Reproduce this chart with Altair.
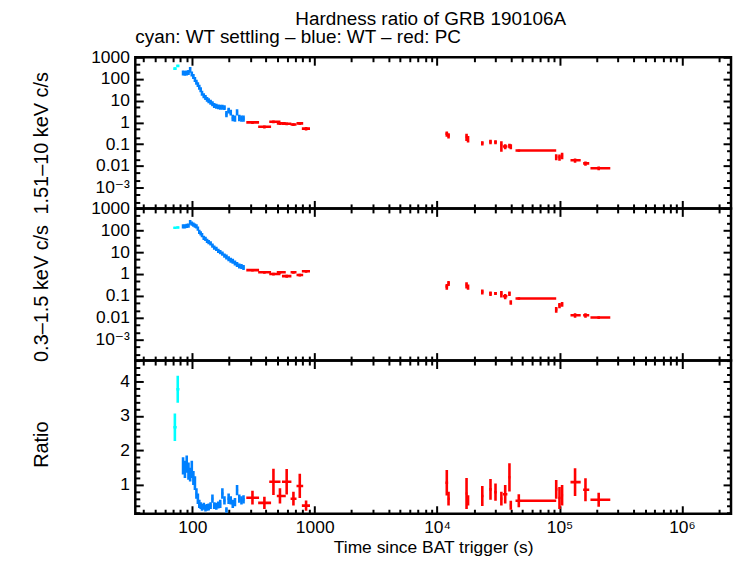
import altair as alt
import pandas as pd

TITLE = "Hardness ratio of GRB 190106A"
SUBTITLE = "cyan: WT settling – blue: WT – red: PC"
X_TITLE = "Time since BAT trigger (s)"
Y_TITLES = ["1.51–10 keV c/s", "0.3–1.5 keV c/s", "Ratio"]

series_names = ["cyan", "blue", "red"]
series_colors = ["#00ffff", "#0080ff", "#ff0000"]

x_tick_values = [100, 1000, 1e4, 1e5, 1e6]
x_tick_labels = ["100", "1000", "10⁴", "10⁵", "10⁶"]
rate_tick_values = [0.001, 0.01, 0.1, 1, 10, 100, 1000]
rate_tick_labels = ["10⁻³", "0.01", "0.1", "1", "10", "100", "1000"]
ratio_tick_values = [1, 2, 3, 4]
ratio_tick_labels = ["1", "2", "3", "4"]

# ---- cyan: WT settling ----
cyan_t = [72, 76]
cyan_tlo = [70, 74]
cyan_thi = [74.5, 78.5]
cyan_hard = [300, 400]
cyan_hard_err = [40, 45]
cyan_soft = [130, 135]
cyan_soft_err = [12, 12]
cyan_ratio = [2.67, 3.77]
cyan_ratio_err = [0.4, 0.39]

# ---- blue: WT ----
blue_t = [84, 87, 90, 93, 96, 99, 102, 105, 108, 111, 114, 117, 120, 124, 128, 132, 136,
          141, 146, 151, 157, 163, 169, 176, 183, 190, 198, 206, 214, 223, 232, 242, 252, 262]
blue_dt = [1.5, 1.5, 1.5, 1.5, 1.5, 1.5, 1.5, 1.5, 1.5, 1.5, 1.5, 1.5, 2, 2, 2, 2, 2,
           2.5, 2.5, 2.5, 3, 3, 3, 3.5, 3.5, 3.5, 4, 4, 4, 4.5, 4.5, 5, 5, 5]
blue_hard = [190, 185, 190, 200, 260, 170, 130, 95, 70, 55, 42, 32, 22, 17, 14, 11.5, 10,
             8.5, 7.2, 6, 5.5, 5.2, 5.0, 5.0, 4.8, 2.4, 3.5, 2.8, 1.6, 1.5, 2.9, 1.6, 1.5, 1.5]
blue_hard_frac = [0.3, 0.3, 0.3, 0.3, 0.35, 0.3, 0.3, 0.3, 0.3, 0.3, 0.3, 0.3, 0.3,
                  0.3, 0.3, 0.3, 0.3, 0.3, 0.3, 0.3, 0.3, 0.3, 0.3, 0.3, 0.3, 0.4,
                  0.35, 0.35, 0.4, 0.4, 0.4, 0.4, 0.4, 0.4]
blue_soft = [150, 150, 160, 165, 230, 200, 180, 165, 150, 120, 85, 72, 60, 45, 40, 33, 29,
             25, 20, 16, 14, 11.5, 10, 8.5, 7, 6, 5, 4.3, 3.8, 3.2, 2.7, 2.3, 2.2, 2.0]
blue_soft_frac = [0.25, 0.25, 0.25, 0.25, 0.3, 0.25, 0.25, 0.25, 0.25, 0.25, 0.25, 0.25, 0.25,
                  0.25, 0.25, 0.25, 0.25, 0.25, 0.25, 0.25, 0.25, 0.25, 0.25, 0.25, 0.25, 0.3,
                  0.3, 0.3, 0.3, 0.3, 0.3, 0.3, 0.3, 0.3]
blue_ratio = [1.55, 1.45, 1.6, 1.4, 1.3, 1.45, 1.2, 1.05, 0.75, 0.6, 0.45, 0.4, 0.35, 0.38,
              0.33, 0.35, 0.36, 0.4, 0.6, 0.4, 0.38, 0.42, 0.45, 0.75, 0.55, 0.27, 0.6, 0.55,
              0.45, 0.5, 0.85, 0.6, 0.55, 0.58]
blue_ratio_err = [0.25, 0.25, 0.25, 0.25, 0.2, 0.25, 0.2, 0.2, 0.15, 0.15, 0.12, 0.1, 0.1, 0.1,
                  0.1, 0.1, 0.1, 0.1, 0.12, 0.1, 0.1, 0.1, 0.12, 0.15, 0.12, 0.08, 0.15, 0.12,
                  0.12, 0.12, 0.15, 0.12, 0.12, 0.12]

# ---- red: PC ----
red_t = [310, 388, 460, 520, 590, 670, 755, 850,
         12000, 12400, 17400, 17900, 23400, 27300, 30000, 33500, 36000, 39000, 40000,
         46500, 94000, 100000, 105000, 134000, 163000, 209000]
red_tlo = [276, 345, 425, 490, 540, 635, 710, 785,
           11700, 12200, 17100, 17600, 22900, 26700, 29300, 32900, 34500, 38300, 39300,
           43700, 92000, 98000, 103000, 123000, 156000, 179000]
red_thi = [351, 440, 525, 580, 645, 710, 805, 915,
           12300, 12700, 17700, 18200, 23900, 27900, 30700, 34100, 37500, 39700, 40700,
           94000, 96000, 102000, 107000, 149000, 175000, 260000]
red_hard = [1.0, 0.63, 1.07, 0.9, 0.87, 0.8, 0.9, 0.52,
            0.30, 0.25, 0.22, 0.18, 0.112, 0.128, 0.125, 0.09, 0.078, 0.085, 0.078,
            0.051, 0.026, 0.025, 0.030, 0.018, 0.013, 0.0078]
red_hard_err = [0.15, 0.1, 0.15, 0.13, 0.12, 0.12, 0.13, 0.09,
                0.08, 0.07, 0.08, 0.06, 0.025, 0.03, 0.025, 0.045, 0.02, 0.02, 0.02,
                0.006, 0.008, 0.008, 0.01, 0.004, 0.003, 0.0015]
red_soft = [1.5, 1.2, 1.0, 1.2, 0.8, 1.2, 0.9, 1.33,
            0.27, 0.38, 0.32, 0.26, 0.155, 0.13, 0.13, 0.125, 0.096, 0.13, 0.051,
            0.076, 0.024, 0.037, 0.042, 0.013, 0.013, 0.0102]
red_soft_err = [0.2, 0.17, 0.15, 0.17, 0.12, 0.17, 0.13, 0.18,
                0.08, 0.1, 0.1, 0.07, 0.04, 0.03, 0.02, 0.04, 0.025, 0.03, 0.012,
                0.01, 0.007, 0.01, 0.01, 0.003, 0.003, 0.0015]
red_ratio = [0.63, 0.48, 1.09, 0.68, 1.09, 0.6, 0.97, 0.4,
             1.06, 0.6, 0.75, 0.55, 0.68, 0.87, 0.79, 0.6, 0.73, 1.22, 0.41,
             0.54, 0.87, 0.62, 0.7, 1.08, 0.86, 0.57]
red_ratio_err = [0.2, 0.18, 0.38, 0.22, 0.37, 0.2, 0.35, 0.15,
                 0.37, 0.2, 0.45, 0.15, 0.29, 0.3, 0.25, 0.2, 0.27, 0.41, 0.13,
                 0.19, 0.27, 0.32, 0.3, 0.4, 0.33, 0.2]

X_DOMAIN = [34.2, 2.52e6]
RATE_DOMAIN = [1.1e-4, 1000]
RATIO_DOMAIN = [0.165, 4.6]

FONT = "Liberation Sans, Arial, DejaVu Sans, sans-serif"
FS_LABEL = 17.5
FS_XTITLE = 17.5
FS_YTITLE = 20
FS_TITLE = 19
W = 599


def rows(name, t, tlo, thi, v, lo, hi):
    return [dict(series=name, t=a, tlo=b, thi=c, v=d, vlo=e, vhi=f)
            for a, b, c, d, e, f in zip(t, tlo, thi, v, lo, hi)]


def absolute(vals, errs):
    return (vals, [v - e for v, e in zip(vals, errs)], [v + e for v, e in zip(vals, errs)])


def relative(vals, fracs):
    return (vals, [v / (1 + f) for v, f in zip(vals, fracs)], [v * (1 + f) for v, f in zip(vals, fracs)])


def panel_df(kind):
    blo = [a - d for a, d in zip(blue_t, blue_dt)]
    bhi = [a + d for a, d in zip(blue_t, blue_dt)]
    if kind == "hard":
        c = absolute(cyan_hard, cyan_hard_err)
        b = relative(blue_hard, blue_hard_frac)
        r = absolute(red_hard, red_hard_err)
    elif kind == "soft":
        c = absolute(cyan_soft, cyan_soft_err)
        b = relative(blue_soft, blue_soft_frac)
        r = absolute(red_soft, red_soft_err)
    else:
        c = absolute(cyan_ratio, cyan_ratio_err)
        b = absolute(blue_ratio, blue_ratio_err)
        r = absolute(red_ratio, red_ratio_err)
    data = (rows("cyan", cyan_t, cyan_tlo, cyan_thi, *c)
            + rows("blue", blue_t, blo, bhi, *b)
            + rows("red", red_t, red_tlo, red_thi, *r))
    return pd.DataFrame(data)


def lab_expr(values, labels):
    expr = "''"
    for v, l in zip(values, labels):
        expr = f"(abs(datum.value / {v} - 1) < 1e-6) ? '{l}' : ({expr})"
    return expr


def axis(orient, values, size, labels=None, title=None, titleX=None, titleY=None,
         labelPadding=6):
    kw = dict(orient=orient, values=values, tickSize=size, offset=-size,
              domain=False, grid=False, ticks=True, tickColor="black", tickWidth=2,
              labels=labels is not None, title=title, minExtent=0)
    if labels is not None:
        kw.update(labelExpr=lab_expr(values, labels), labelFont=FONT,
                  labelFontSize=FS_LABEL, labelColor="black", labelPadding=labelPadding,
                  labelOverlap=False, labelFlush=False)
    if title is not None:
        kw.update(titleFont=FONT, titleFontWeight="normal", titleColor="black")
        if titleX is not None:
            kw.update(titleX=titleX, titleY=titleY, titleAngle=-90, titleAlign="center",
                      titleBaseline="middle", titleFontSize=FS_YTITLE)
        else:
            kw.update(titlePadding=2, titleFontSize=FS_XTITLE)
    return alt.Axis(**kw)


x_minor = [m * 10 ** k for k in range(1, 7) for m in range(2, 10)
           if X_DOMAIN[0] <= m * 10 ** k <= X_DOMAIN[1]]
rate_minor = [m * 10.0 ** k for k in range(-4, 3) for m in (2, 5)
              if RATE_DOMAIN[0] <= m * 10.0 ** k <= RATE_DOMAIN[1]]
ratio_minor = [round(0.2 * i, 1) for i in range(1, 24) if i % 5]

xscale = alt.Scale(type="log", domain=X_DOMAIN, nice=False)
color = alt.Color("series:N", scale=alt.Scale(domain=series_names, range=series_colors),
                  legend=None)

SW = 2.6


def panel(kind, height, ytitle, title_y, bottom=False, title=None):
    df = panel_df(kind)
    if kind == "ratio":
        yscale = alt.Scale(type="linear", domain=RATIO_DOMAIN, nice=False, zero=False)
        ymaj, ylab, ymin = ratio_tick_values, ratio_tick_labels, ratio_minor
    else:
        yscale = alt.Scale(type="log", domain=RATE_DOMAIN, nice=False)
        ymaj, ylab, ymin = rate_tick_values, rate_tick_labels, rate_minor
    base = alt.Chart(df)
    xb = axis("bottom", x_tick_values, 8,
              labels=x_tick_labels if bottom else None,
              title=X_TITLE if bottom else None, labelPadding=5)
    l1 = base.mark_rule(strokeWidth=SW, clip=True).encode(
        x=alt.X("tlo:Q", scale=xscale, axis=xb), x2="thi:Q",
        y=alt.Y("v:Q", scale=yscale, axis=axis("left", ymaj, 8, labels=ylab,
                                                 title=ytitle, titleX=-102,
                                                 titleY=title_y)),
        color=color)
    l2 = base.mark_rule(strokeWidth=SW, clip=True).encode(
        x=alt.X("t:Q", scale=xscale, axis=axis("bottom", x_minor, 4.5)),
        y=alt.Y("vlo:Q", scale=yscale, axis=axis("left", ymin, 4.5)), y2="vhi:Q",
        color=color)
    l3 = base.mark_rule(strokeWidth=SW, clip=True, opacity=0).encode(
        x=alt.X("tlo:Q", scale=xscale, axis=axis("top", x_tick_values, 8)), x2="thi:Q",
        y=alt.Y("v:Q", scale=yscale, axis=axis("right", ymaj, 8)),
        color=color)
    l4 = base.mark_rule(strokeWidth=SW, clip=True, opacity=0).encode(
        x=alt.X("t:Q", scale=xscale, axis=axis("top", x_minor, 4.5)),
        y=alt.Y("vlo:Q", scale=yscale, axis=axis("right", ymin, 4.5)), y2="vhi:Q",
        color=color)
    ch = alt.layer(l1, l2, l3, l4).resolve_axis(x="independent", y="independent")
    props = dict(width=W, height=height)
    if title is not None:
        props["title"] = title
    return ch.properties(**props)


top = panel("hard", 152, Y_TITLES[0], 86,
            title=alt.Title(SUBTITLE, anchor="start", frame="group", font=FONT,
                            fontSize=FS_TITLE, fontWeight="normal", color="black",
                            offset=1))
mid = panel("soft", 153, Y_TITLES[1], 85)
bot = panel("ratio", 154, Y_TITLES[2], 84, bottom=True)

chart = alt.vconcat(top, mid, bot, spacing=0, bounds="flush").properties(
    title=alt.Title(TITLE, anchor="middle", font=FONT, fontSize=FS_TITLE,
                    fontWeight="normal", color="black", offset=-2, dx=49),
    padding={"left": 22, "top": 0, "right": 0, "bottom": 0},
).configure(background="white").configure_view(stroke="black", strokeWidth=2.5)

chart.save("out.html", embed_options={"renderer": "svg", "actions": False})
